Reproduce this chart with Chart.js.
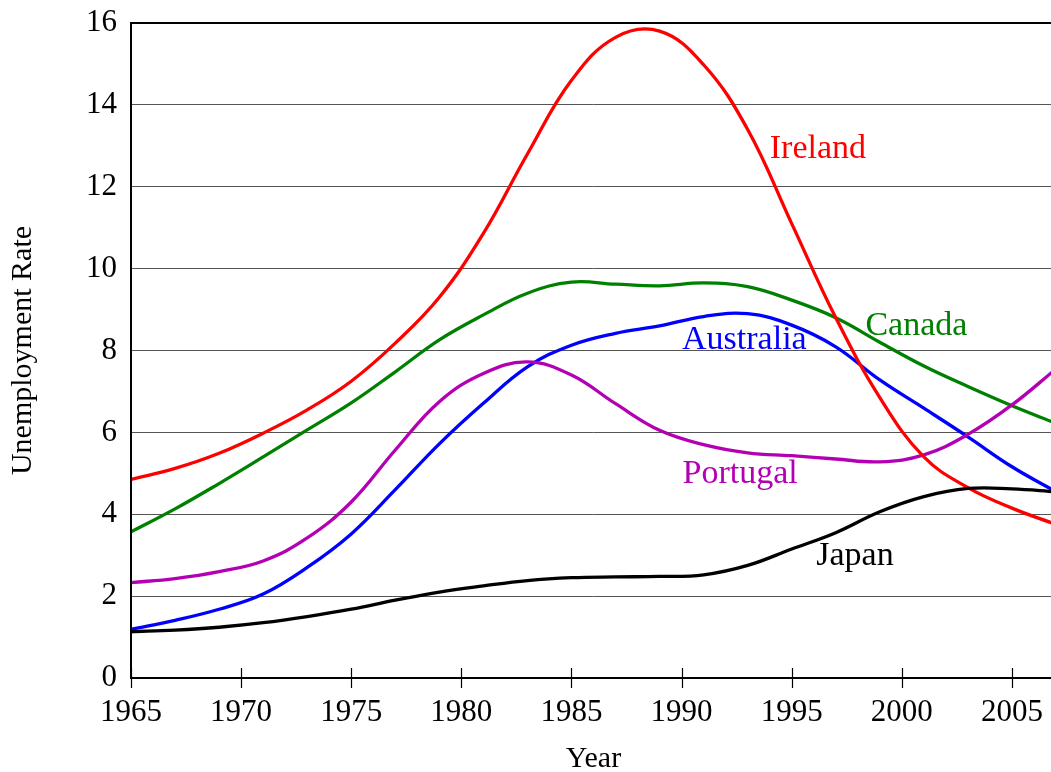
<!DOCTYPE html>
<html><head><meta charset="utf-8">
<script src="https://cdn.jsdelivr.net/npm/chart.js@4/dist/chart.umd.min.js"></script>
<style>html,body{margin:0;padding:0;background:#fff;overflow:hidden;width:1051px;height:772px}canvas{display:block}</style>
</head><body><canvas id="c" width="1060" height="772" style="width:1060px;height:772px"></canvas>
<script>
const years = [1965,1967,1969,1971,1973,1975,1977,1979,1981,1983,1985,1987,1989,1991,1993,1995,1997,1999,2001,2003,2005,2007];
const ireland   = [4.85,5.12,5.49,5.98,6.55,7.25,8.18,9.3,10.86,12.8,14.6,15.65,15.8,14.98,13.4,11.1,8.8,6.85,5.4,4.65,4.15,3.75];
const canada    = [3.57,4.13,4.75,5.40,6.06,6.72,7.48,8.26,8.87,9.4,9.67,9.62,9.58,9.65,9.56,9.23,8.8,8.2,7.62,7.12,6.65,6.22];
const australia = [1.19,1.41,1.68,2.05,2.7,3.52,4.6,5.72,6.71,7.6,8.13,8.42,8.6,8.83,8.9,8.62,8.09,7.28,6.59,5.89,5.16,4.55];
const portugal  = [2.33,2.43,2.6,2.86,3.42,4.3,5.57,6.75,7.44,7.72,7.4,6.7,6.05,5.7,5.5,5.43,5.35,5.28,5.45,5.95,6.67,7.55];
const japan     = [1.13,1.17,1.24,1.35,1.5,1.68,1.9,2.1,2.25,2.38,2.45,2.47,2.48,2.52,2.75,3.15,3.55,4.06,4.43,4.63,4.62,4.55];
const xTicks = [1965,1970,1975,1980,1985,1990,1995,2000,2005];
const yTicks = [0,2,4,6,8,10,12,14,16];
const labelText  = ['Ireland','Canada','Australia','Portugal','Japan'];
const labelYear  = [1996.19,2000.66,1992.85,1992.66,1997.87];
const labelValue = [12.70,8.38,8.04,4.76,2.76];
const labelColor = ['#ff0000','#008000','#0000ff','#b300b3','#000000'];

const FONT = "'Liberation Serif', 'Times New Roman', serif";
Chart.defaults.font.family = FONT;
Chart.defaults.color = '#000';

function series(label, arr, color){
  return {label, data: years.map((x,i)=>({x, y: arr[i]})), borderColor: color, backgroundColor: color,
    borderWidth: 3.3, pointRadius: 0, tension: 0.4, fill: false};
}

const deco = {
  id: 'deco',
  afterDatasetsDraw(chart){
    const {ctx, chartArea: a, scales: {x, y}} = chart;
    ctx.save();
    ctx.strokeStyle = '#000';
    ctx.lineWidth = 2;
    ctx.beginPath();
    ctx.moveTo(a.left - 1, a.top); ctx.lineTo(a.right + 6, a.top);
    ctx.moveTo(a.left, a.top - 1); ctx.lineTo(a.left, a.bottom + 1);
    ctx.moveTo(a.left - 1, a.bottom); ctx.lineTo(a.right + 6, a.bottom);
    ctx.stroke();
    ctx.lineWidth = 1.2;
    ctx.beginPath();
    xTicks.forEach(v => {
      const px = Math.round(x.getPixelForValue(v)) + 0.5;
      ctx.moveTo(px, a.bottom - 10); ctx.lineTo(px, a.bottom + 10);
    });
    ctx.stroke();
    ctx.font = '34px ' + FONT;
    ctx.textAlign = 'center';
    ctx.textBaseline = 'alphabetic';
    labelText.forEach((t, i) => {
      ctx.fillStyle = labelColor[i];
      ctx.fillText(t, x.getPixelForValue(labelYear[i]), y.getPixelForValue(labelValue[i]));
    });
    ctx.restore();
  }
};

const pad = { top: 23, right: 4, left: 0, bottom: 0 };
const chart = new Chart(document.getElementById('c'), {
  type: 'line',
  data: { datasets: [
    series('Japan', japan, '#000000'),
    series('Ireland', ireland, '#ff0000'),
    series('Portugal', portugal, '#b300b3'),
    series('Australia', australia, '#0000ff'),
    series('Canada', canada, '#008000')
  ]},
  options: {
    responsive: false,
    animation: false,
    devicePixelRatio: 1,
    layout: { padding: pad },
    plugins: { legend: { display: false }, tooltip: { enabled: false } },
    scales: {
      x: {
        type: 'linear', min: 1965, max: 2007,
        afterBuildTicks: s => { s.ticks = xTicks.map(v => ({value: v})); },
        afterFit: s => { s.height = 94; s.paddingLeft = 0; s.paddingRight = 0; },
        grid: { display: false, drawTicks: false },
        border: { display: false },
        ticks: { font: { size: 31 }, padding: 16, maxRotation: 0, autoSkip: false, callback: v => String(v) },
        title: { display: true, text: 'Year', font: { size: 30 }, padding: { top: 0, bottom: -5 } }
      },
      y: {
        min: 0, max: 16,
        afterBuildTicks: s => { s.ticks = yTicks.map(v => ({value: v})); },
        afterFit: s => { s.width = 131; s.paddingTop = 0; s.paddingBottom = 0; },
        grid: { color: '#555', lineWidth: 1, drawTicks: false },
        border: { display: false },
        ticks: { font: { size: 31 }, padding: 14, callback: v => String(v) },
        title: { display: true, text: 'Unemployment Rate', font: { size: 30 }, padding: { top: 5, bottom: 0 } }
      }
    }
  },
  plugins: [deco]
});
// pin the plot area to the reference frame: left 131, top 23, bottom 678, right 1056
const target = { left: 131, top: 23, right: 1056, bottom: 678 };
for (let k = 0; k < 4; k++) {
  const a = chart.chartArea;
  const dt = Math.round(a.top - target.top), db = Math.round(target.bottom - a.bottom);
  const dl = Math.round(a.left - target.left), dr = Math.round(target.right - a.right);
  if (!dt && !db && !dl && !dr) break;
  pad.top -= dt; pad.bottom -= db; pad.left -= dl; pad.right -= dr;
  chart.config.options.layout.padding = Object.assign({}, pad);
  chart.update();
}
</script>
</body></html>
